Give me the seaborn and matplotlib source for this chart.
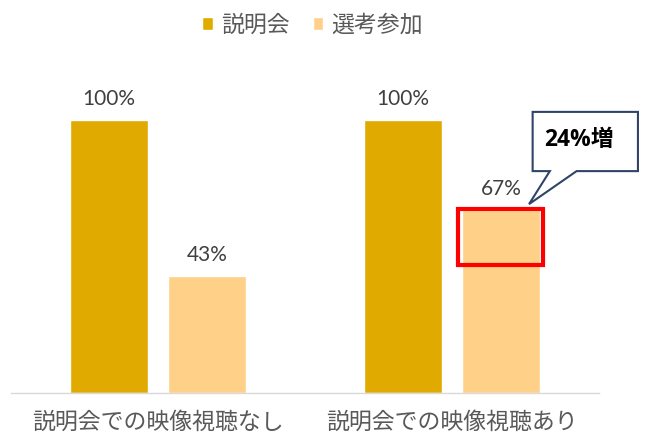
import pandas as pd
import numpy as np
import matplotlib.pyplot as plt
import seaborn as sns
from matplotlib.patches import Rectangle, Polygon

groups = ["説明会での映像視聴なし", "説明会での映像視聴あり"]
series = ["説明会", "選考参加"]
briefing = [100, 100]
selection = [43, 67]
increase_label = "24%増"

colors = ["#E1AA00", "#FFD088"]
text_gray = "#595959"
num_font = ['Open Sans', 'Noto Sans CJK JP']
label_font = ['Lato', 'Noto Sans CJK JP']

sns.set_theme(style="white")
plt.rcParams['font.family'] = ['Noto Sans CJK JP', 'DejaVu Sans']

df = pd.DataFrame({
    "group": groups * 2,
    "series": [series[0]] * 2 + [series[1]] * 2,
    "value": briefing + selection,
})

fig = plt.figure(figsize=(6.61, 4.48), dpi=100)
ax = fig.add_axes([0.0166, 0.1228, 0.8895, 0.731])

sns.barplot(data=df, x="group", y="value", hue="series", palette=colors,
            width=0.665, gap=0.2, saturation=1, ax=ax)

for cont in ax.containers:
    ax.bar_label(cont, labels=[f"{v:.0f}%" for v in cont.datavalues],
                 padding=8, fontsize=15, color="#404040", family=label_font)

ax.set_xlim(-0.5, 1.5)
ax.set_ylim(0, 120)
ax.set_xlabel("")
ax.set_ylabel("")
ax.set_yticks([])
ax.tick_params(axis="x", length=0, pad=13, labelsize=16.5, labelcolor=text_gray)
for s in ["top", "left", "right"]:
    ax.spines[s].set_visible(False)
ax.spines["bottom"].set_color("#D9D9D9")
ax.spines["bottom"].set_linewidth(1)

# legend at top
handles, labels = ax.get_legend_handles_labels()
ax.get_legend().remove()
fig.legend(handles, labels, loc="upper center", bbox_to_anchor=(0.473, 1.015),
           ncol=2, frameon=False, fontsize=16.5, labelcolor=text_gray,
           handlelength=0.47, handleheight=0.47, handletextpad=0.35,
           columnspacing=1.0)

# highlight the increase on the second group's selection bar
bar = ax.containers[1].patches[1]
x0 = bar.get_x() - 0.012
w = bar.get_width() + 0.024
rect = Rectangle((x0, selection[0] + 3.8), w, selection[1] - selection[0] - 3.2,
                 fill=False, edgecolor="#FF0000", linewidth=3, zorder=5,
                 clip_on=False)
ax.add_patch(rect)

# callout box
tip_x = bar.get_x() + bar.get_width() - 0.037
tip_y = selection[1] + 2.2
bx0, bx1 = 1.2745, 1.6327
by0, by1 = 81.3, 103.0
callout = Polygon([(bx0, by0), (bx0, by1), (bx1, by1), (bx1, by0),
                   (1.424, by0), (tip_x, tip_y), (1.333, by0)],
                  closed=True, facecolor="white", edgecolor="#2F4468",
                  linewidth=1.5, zorder=6, clip_on=False)
ax.add_patch(callout)
ax.text((bx0 + bx1) / 2 - 0.02, (by0 + by1) / 2 + 0.5, increase_label,
        ha="center", va="center", fontsize=16.5, fontweight="bold",
        color="black", zorder=7, family=num_font)

plt.savefig("out.png", dpi=100)
